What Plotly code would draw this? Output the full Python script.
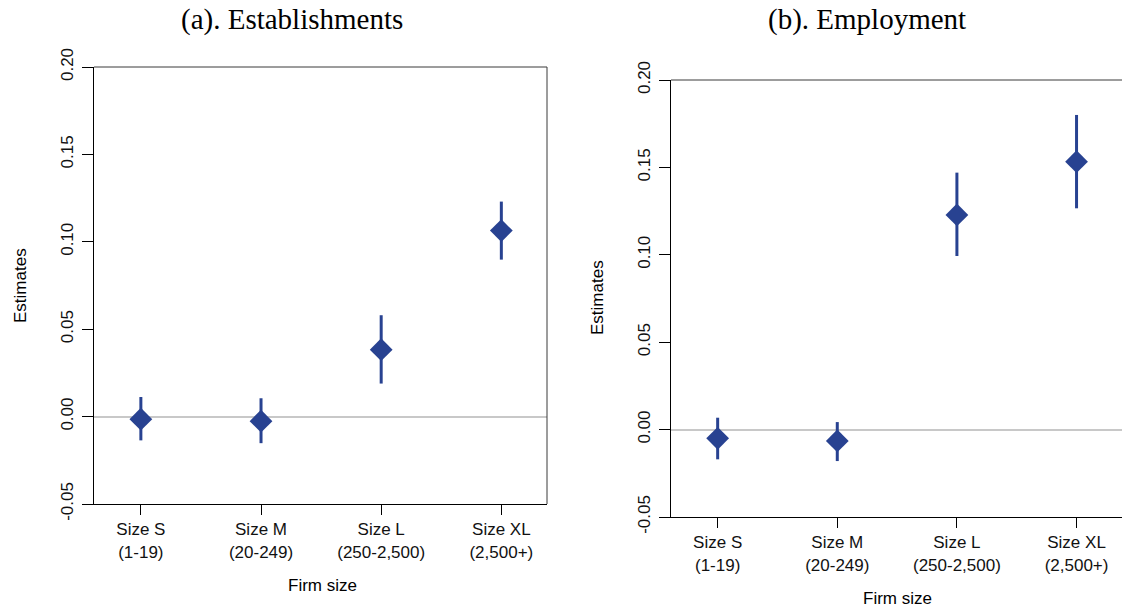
import plotly.graph_objects as go

# Firm-size categories and tick labels
size_pos = [1, 2, 3, 4]
size_labels = ["Size S<br>(1-19)", "Size M<br>(20-249)", "Size L<br>(250-2,500)", "Size XL<br>(2,500+)"]

# Panel (a): establishments — point estimates and confidence bounds
est_a = [-0.0015, -0.0026, 0.0383, 0.1064]
hi_a = [0.0112, 0.0105, 0.0580, 0.1230]
lo_a = [-0.0136, -0.0152, 0.0189, 0.0898]

# Panel (b): employment — point estimates and confidence bounds
est_b = [-0.0050, -0.0065, 0.1228, 0.1533]
hi_b = [0.0068, 0.0043, 0.1470, 0.1800]
lo_b = [-0.0170, -0.0180, 0.0993, 0.1266]

y_ticks = [-0.05, 0.0, 0.05, 0.10, 0.15, 0.20]
y_tick_text = ["-0.05", "0.00", "0.05", "0.10", "0.15", "0.20"]

W, H = 1122, 609
BLUE = "rgb(40,66,145)"
SANS = "Liberation Sans, Arial, sans-serif"
SERIF = "Liberation Serif, Times New Roman, serif"


def px_x(p):
    return p / W


def px_y(p):
    return 1 - p / H


fig = go.Figure()

for est, hi, lo, xa, ya in [(est_a, hi_a, lo_a, "x", "y"), (est_b, hi_b, lo_b, "x2", "y2")]:
    fig.add_trace(go.Scatter(
        x=size_pos, y=est, mode="markers", xaxis=xa, yaxis=ya,
        marker=dict(symbol="diamond", size=17.5, color=BLUE, line=dict(width=0)),
        error_y=dict(type="data", symmetric=False,
                     array=[h - e for h, e in zip(hi, est)],
                     arrayminus=[e - l for e, l in zip(est, lo)],
                     color=BLUE, thickness=3, width=0),
        showlegend=False, hoverinfo="skip",
    ))

xaxis_common = dict(
    range=[0.61, 4.38], tickmode="array", tickvals=size_pos, ticktext=size_labels,
    ticks="outside", ticklen=10, tickwidth=1, tickcolor="black", automargin=False,
    showline=True, linecolor="black", linewidth=1, showgrid=False, zeroline=False,
    tickfont=dict(family=SANS, size=17, color="#111111"),
)
yaxis_common = dict(
    range=[-0.05, 0.20], tickmode="array", tickvals=y_ticks, ticktext=y_tick_text,
    ticks="outside", ticklen=11, tickwidth=1, tickcolor="black", tickangle=-90,
    ticklabelstandoff=2,
    showline=True, linecolor="black", linewidth=1, showgrid=False, automargin=False,
    zeroline=True, zerolinecolor="#c8c8c8", zerolinewidth=1.5,
    tickfont=dict(family=SANS, size=17, color="#111111"),
)

fig.update_layout(
    width=W, height=H, margin=dict(l=0, r=0, t=0, b=0, autoexpand=False),
    paper_bgcolor="white", plot_bgcolor="white",
    xaxis=dict(domain=[px_x(94), px_x(547)], anchor="y", **xaxis_common),
    yaxis=dict(domain=[px_y(504), px_y(67)], anchor="x", **yaxis_common),
    xaxis2=dict(domain=[px_x(671), 1.0], anchor="y2", **xaxis_common),
    yaxis2=dict(domain=[px_y(517), px_y(80)], anchor="x2", **yaxis_common),
)

# Upper and right frame edges
frame = dict(type="line", line=dict(color="#3a3a3a", width=1))
fig.add_shape(xref="x domain", yref="y domain", x0=0, x1=1, y0=1, y1=1, **frame)
fig.add_shape(xref="x domain", yref="y domain", x0=1, x1=1, y0=0, y1=1, **frame)
fig.add_shape(xref="x2 domain", yref="y2 domain", x0=0, x1=1, y0=1, y1=1, **frame)

# Panel titles and axis titles
texts = [
    ("(a). Establishments", 292, 20, SERIF, 29, 0),
    ("(b). Employment", 867, 20, SERIF, 29, 0),
    ("Estimates", 20, 286, SANS, 17, -90),
    ("Estimates", 597, 298, SANS, 17, -90),
    ("Firm size", 322, 585, SANS, 17, 0),
    ("Firm size", 897, 598, SANS, 17, 0),
]
for txt, x, y, fam, sz, ang in texts:
    fig.add_annotation(text=txt, x=px_x(x), y=px_y(y), xref="paper", yref="paper",
                       xanchor="center", yanchor="middle", showarrow=False, textangle=ang,
                       font=dict(family=fam, size=sz, color="#000000"))

fig.write_html("out.html")
